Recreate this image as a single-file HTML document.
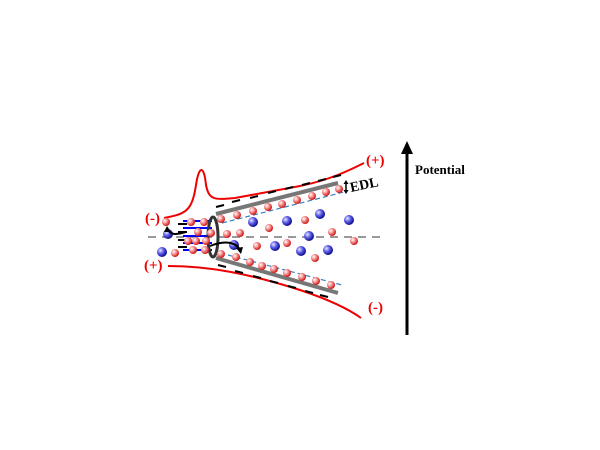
<!DOCTYPE html>
<html><head><style>body{margin:0;background:#fff}svg{display:block}</style></head><body>
<svg width="600" height="450" viewBox="0 0 600 450" xmlns="http://www.w3.org/2000/svg">
<defs>
<radialGradient id="r" cx="35%" cy="35%" r="65%"><stop offset="0" stop-color="#fff"/><stop offset="0.5" stop-color="#f28a8a"/><stop offset="1" stop-color="#d01818"/></radialGradient>
<radialGradient id="b" cx="35%" cy="35%" r="65%"><stop offset="0" stop-color="#e8e8ff"/><stop offset="0.5" stop-color="#5a5ae8"/><stop offset="1" stop-color="#10108a"/></radialGradient>
</defs>
<line x1="148" y1="237" x2="382" y2="237" stroke="#999" stroke-width="2" stroke-dasharray="8,6"/>
<path d="M164 218 C185 214,192 212,196 185 C199 165,204 165,206 185 C209 200,214 200,235 198 L300 186 C330 180,350 170,364 163" fill="none" stroke="#e00" stroke-width="2"/>
<path d="M168 266 C210 266,250 274,300 290 C330 300,350 310,361 318" fill="none" stroke="#e00" stroke-width="2"/>
<line x1="216" y1="214" x2="338" y2="183" stroke="#777" stroke-width="4"/>
<line x1="216" y1="258" x2="338" y2="293" stroke="#777" stroke-width="4"/>
<line x1="222" y1="223" x2="344" y2="192" stroke="#3a7fc0" stroke-width="1.2" stroke-dasharray="5,3"/>
<line x1="228" y1="255" x2="342" y2="285" stroke="#3a7fc0" stroke-width="1.2" stroke-dasharray="5,3"/>
<g stroke="#00f" stroke-width="2"><line x1="183" y1="221" x2="212" y2="221"/><line x1="183" y1="228" x2="212" y2="228"/><line x1="183" y1="236" x2="212" y2="236"/><line x1="183" y1="243" x2="212" y2="243"/><line x1="183" y1="250" x2="212" y2="250"/></g>
<g stroke="#000" stroke-width="2">
<line x1="178" y1="224" x2="187" y2="224"/><line x1="178" y1="232" x2="187" y2="232"/><line x1="178" y1="240" x2="187" y2="240"/><line x1="178" y1="247" x2="187" y2="247"/>
<line x1="216" y1="207" x2="224" y2="205"/><line x1="232" y1="202" x2="240" y2="200"/><line x1="250" y1="198" x2="258" y2="196"/><line x1="268" y1="193" x2="276" y2="191"/><line x1="285" y1="189" x2="293" y2="187"/><line x1="302" y1="185" x2="310" y2="183"/><line x1="318" y1="181" x2="326" y2="179"/><line x1="333" y1="177" x2="341" y2="175"/>
<line x1="218" y1="265" x2="226" y2="267"/><line x1="235" y1="271" x2="243" y2="273"/><line x1="253" y1="276" x2="261" y2="278"/><line x1="270" y1="281" x2="278" y2="283"/><line x1="288" y1="286" x2="296" y2="288"/><line x1="305" y1="291" x2="313" y2="293"/><line x1="320" y1="295" x2="328" y2="297"/>
</g>
<ellipse cx="213" cy="237" rx="5" ry="20" fill="none" stroke="#333" stroke-width="3"/>
<g fill="url(#b)">
<circle cx="168" cy="234" r="5"/><circle cx="162" cy="252" r="5"/><circle cx="253" cy="222" r="5"/><circle cx="287" cy="221" r="5"/><circle cx="320" cy="214" r="5"/><circle cx="349" cy="220" r="5"/><circle cx="309" cy="236" r="5"/><circle cx="275" cy="246" r="5"/><circle cx="234" cy="245" r="5"/><circle cx="301" cy="251" r="5"/><circle cx="328" cy="250" r="5"/>
</g>
<g fill="url(#r)">
<circle cx="166" cy="222" r="4"/><circle cx="175" cy="253" r="4"/><circle cx="191" cy="222" r="4"/><circle cx="204" cy="222" r="4"/><circle cx="198" cy="232" r="4"/><circle cx="188" cy="241" r="4"/><circle cx="196" cy="241" r="4"/><circle cx="206" cy="241" r="4"/><circle cx="193" cy="250" r="4"/><circle cx="205" cy="250" r="4"/><circle cx="211" cy="233" r="4"/>
<circle cx="221" cy="219" r="4"/><circle cx="237" cy="215" r="4"/><circle cx="253" cy="211" r="4"/><circle cx="268" cy="207" r="4"/><circle cx="282" cy="204" r="4"/><circle cx="297" cy="200" r="4"/><circle cx="312" cy="196" r="4"/><circle cx="326" cy="192" r="4"/><circle cx="339" cy="189" r="4"/>
<circle cx="227" cy="234" r="4"/><circle cx="240" cy="233" r="4"/><circle cx="269" cy="228" r="4"/><circle cx="305" cy="220" r="4"/><circle cx="332" cy="232" r="4"/><circle cx="354" cy="241" r="4"/><circle cx="257" cy="246" r="4"/><circle cx="287" cy="243" r="4"/><circle cx="315" cy="258" r="4"/>
<circle cx="221" cy="254" r="4"/><circle cx="236" cy="257" r="4"/><circle cx="250" cy="262" r="4"/><circle cx="262" cy="266" r="4"/><circle cx="274" cy="269" r="4"/><circle cx="287" cy="273" r="4"/><circle cx="302" cy="277" r="4"/><circle cx="316" cy="281" r="4"/><circle cx="331" cy="285" r="4"/>
</g>
<path d="M168 230 C172 236,178 234,186 232" fill="none" stroke="#000" stroke-width="2"/>
<path d="M167 226 l-3 6 l7 0 z" fill="#000"/>
<path d="M210 246 C225 240,236 242,240 250" fill="none" stroke="#000" stroke-width="2"/>
<path d="M236 248 l5 6 l2 -7 z" fill="#000"/>
<line x1="346" y1="182" x2="346" y2="192" stroke="#000" stroke-width="1.5"/>
<path d="M346 180 l-2.5 4 h5z M346 194 l-2.5 -4 h5z" fill="#000"/>
<g font-family="Liberation Serif, serif" font-weight="bold" fill="#e00" font-size="15">
<text x="366" y="165">(+)</text><text x="145" y="223">(-)</text><text x="144" y="270">(+)</text><text x="368" y="312">(-)</text>
</g>
<text x="351" y="192" font-family="Liberation Serif, serif" font-weight="bold" font-size="14" transform="rotate(-12 351 192)">EDL</text>
<line x1="407" y1="335" x2="407" y2="152" stroke="#000" stroke-width="3"/>
<path d="M407 141 l-6 13 h12z" fill="#000"/>
<text x="415" y="174" font-family="Liberation Serif, serif" font-weight="bold" font-size="13">Potential</text>
</svg>
</body></html>
